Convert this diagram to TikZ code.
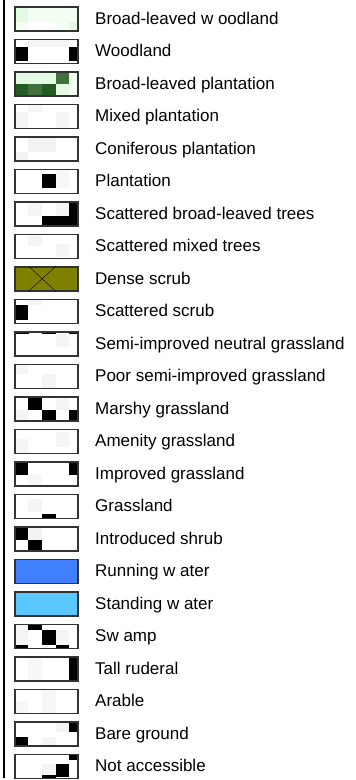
\documentclass[tikz,border=0pt]{standalone}
\usepackage{fontspec}
\setmainfont{Liberation Sans}
\usepackage{tikz}
\usetikzlibrary{positioning, backgrounds}

\definecolor{scrubolive}{RGB}{128,128,0}
\definecolor{runwater}{RGB}{64,128,255}
\definecolor{standwater}{RGB}{90,200,255}
\definecolor{plantdark}{RGB}{34,92,34}
\definecolor{plantmid}{RGB}{64,112,64}
\definecolor{paleleaf}{RGB}{226,250,226}

% pixel cells of a swatch, offsets from its top left corner
\newcommand{\swatchpx}[3]{%
  \begin{scope}[on background layer, shift={(#1.north west)}]
    \foreach \xa/\ya/\xb/\yb in {#3} \fill[#2] (\xa,-\ya) rectangle (\xb,-\yb);
  \end{scope}}

\begin{document}
\begin{tikzpicture}[x=1pt, y=1pt, node distance=7pt, font=\fontsize{17}{20}\selectfont]

    % Define styles for the legend entries
    \tikzstyle{swatch} = [draw=black!80, line width=1.5pt, minimum width=63pt, minimum height=24pt, inner sep=0pt]
    \tikzstyle{legendtext} = [inner sep=0pt, text height=11pt, text depth=0pt]

    \useasboundingbox (0,0) rectangle (356,-780);
    \draw[line width=2pt] (3.5,0) -- (3.5,-778);

    \node (bl_woodland) [swatch] at (46.25,-18.75) {};
    \node (woodland) [swatch, below=of bl_woodland] {};
    \node (bl_plantation) [swatch, below=of woodland] {};
    \node (mixed_plant) [swatch, below=of bl_plantation] {};
    \node (conif_plant) [swatch, below=of mixed_plant] {};
    \node (plantation) [swatch, below=of conif_plant] {};
    \node (sc_bl_trees) [swatch, below=of plantation] {};
    \node (sc_mixed_trees) [swatch, below=of sc_bl_trees] {};
    \node (dense_scrub) [swatch, fill=scrubolive, below=of sc_mixed_trees] {};
    \node (sc_scrub) [swatch, below=of dense_scrub] {};
    \node (si_grass) [swatch, below=of sc_scrub] {};
    \node (poor_si_grass) [swatch, below=of si_grass] {};
    \node (marshy_grass) [swatch, below=of poor_si_grass] {};
    \node (amenity_grass) [swatch, below=of marshy_grass] {};
    \node (improved_grass) [swatch, below=of amenity_grass] {};
    \node (grassland) [swatch, below=of improved_grass] {};
    \node (intro_shrub) [swatch, below=of grassland] {};
    \node (running_water) [swatch, fill=runwater, below=of intro_shrub] {};
    \node (standing_water) [swatch, fill=standwater, below=of running_water] {};
    \node (swamp) [swatch, below=of standing_water] {};
    \node (tall_ruderal) [swatch, below=of swamp] {};
    \node (arable) [swatch, below=of tall_ruderal] {};
    \node (bare_ground) [swatch, below=of arable] {};
    \node (not_accessible) [swatch, below=of bare_ground] {};

    \node (bl_woodland_txt) [legendtext, right=16.5pt of bl_woodland] {Broad-leaved w oodland};
    \node (woodland_txt) [legendtext, right=16.5pt of woodland] {Woodland};
    \node (bl_plantation_txt) [legendtext, right=16.5pt of bl_plantation] {Broad-leaved plantation};
    \node (mixed_plant_txt) [legendtext, right=16.5pt of mixed_plant] {Mixed plantation};
    \node (conif_plant_txt) [legendtext, right=16.5pt of conif_plant] {Coniferous plantation};
    \node (plantation_txt) [legendtext, right=16.5pt of plantation] {Plantation};
    \node (sc_bl_trees_txt) [legendtext, right=16.5pt of sc_bl_trees] {Scattered broad-leaved trees};
    \node (sc_mixed_trees_txt) [legendtext, right=16.5pt of sc_mixed_trees] {Scattered mixed trees};
    \node (dense_scrub_txt) [legendtext, right=16.5pt of dense_scrub] {Dense scrub};
    \node (sc_scrub_txt) [legendtext, right=16.5pt of sc_scrub] {Scattered scrub};
    \node (si_grass_txt) [legendtext, right=16.5pt of si_grass] {Semi-improved neutral grassland};
    \node (poor_si_grass_txt) [legendtext, right=16.5pt of poor_si_grass] {Poor semi-improved grassland};
    \node (marshy_grass_txt) [legendtext, right=16.5pt of marshy_grass] {Marshy grassland};
    \node (amenity_grass_txt) [legendtext, right=16.5pt of amenity_grass] {Amenity grassland};
    \node (improved_grass_txt) [legendtext, right=16.5pt of improved_grass] {Improved grassland};
    \node (grassland_txt) [legendtext, right=16.5pt of grassland] {Grassland};
    \node (intro_shrub_txt) [legendtext, right=16.5pt of intro_shrub] {Introduced shrub};
    \node (running_water_txt) [legendtext, right=16.5pt of running_water] {Running w ater};
    \node (standing_water_txt) [legendtext, right=16.5pt of standing_water] {Standing w ater};
    \node (swamp_txt) [legendtext, right=16.5pt of swamp] {Sw amp};
    \node (tall_ruderal_txt) [legendtext, right=16.5pt of tall_ruderal] {Tall ruderal};
    \node (arable_txt) [legendtext, right=16.5pt of arable] {Arable};
    \node (bare_ground_txt) [legendtext, right=16.5pt of bare_ground] {Bare ground};
    \node (not_accessible_txt) [legendtext, right=16.5pt of not_accessible] {Not accessible};

    % swatch patterns
    \swatchpx{bl_woodland}{paleleaf}{0/0/14.3/15.7, 55.3/15.7/64.5/25.5}
    \swatchpx{bl_woodland}{green!5}{14.3/0/64.5/15.7, 0/15.7/14.3/25.5, 42/15.7/55.3/25.5}
    \swatchpx{woodland}{black}{0/8.5/14.3/22.5, 55.3/8.5/64.5/22.5}
    \swatchpx{woodland}{black!4}{14.3/0/55.3/8.5}
    \swatchpx{bl_plantation}{paleleaf}{0/0/42/12.5, 42/12.5/55.3/25.5}
    \swatchpx{bl_plantation}{green!5}{55.3/0/64.5/25.5}
    \swatchpx{bl_plantation}{plantdark}{0/12.5/14.3/25.5, 27.7/12.5/42/25.5}
    \swatchpx{bl_plantation}{plantmid}{42/0/55.3/12.5, 14.3/12.5/27.7/25.5}
    \swatchpx{mixed_plant}{black!4}{14.3/0/27.7/8, 0/8/14.3/25.5, 42/8/55.3/25.5}
    \swatchpx{conif_plant}{black!5}{0/16/14.3/25.5, 14.3/0/42/16}
    \swatchpx{plantation}{black}{27.7/5.7/42/19.7}
    \swatchpx{plantation}{black!3}{42/0/55.3/19.7}
    \swatchpx{sc_bl_trees}{black}{27.7/15/64.5/25.5, 55.3/0/64.5/15}
    \swatchpx{sc_bl_trees}{black!4}{14.3/0/27.7/15, 42/0/55.3/15}
    \swatchpx{sc_mixed_trees}{black!4}{14.3/2/27.7/12, 42/10/55.3/23}
    \draw[thin] (dense_scrub.north west) ++(14.3,0) -- ++(27.7,-25.5);
    \draw[thin] (dense_scrub.north west) ++(42,0) -- ++(-27.7,-25.5);
    \swatchpx{sc_scrub}{black}{0/6.7/14.3/21.7}
    \swatchpx{sc_scrub}{black!4}{14.3/0/27.7/6.7}
    \swatchpx{si_grass}{black}{0/0/15/3, 27.7/0/42/3, 55.3/0/64.5/3}
    \swatchpx{si_grass}{black!4}{42/3/55.3/16}
    \swatchpx{poor_si_grass}{black!4}{0/0/14.3/10, 27.7/10/42/25.5}
    \swatchpx{marshy_grass}{black}{14.3/0/27.7/14, 27.7/14/42/25.5, 55.3/14/64.5/25.5}
    \swatchpx{marshy_grass}{black!4}{0/14/14.3/25.5, 42/0/55.3/14}
    \swatchpx{amenity_grass}{black!4}{0/10/14.3/25.5, 42/3/55.3/18}
    \swatchpx{improved_grass}{black}{0/0/14.3/14, 55.3/0/64.5/14}
    \swatchpx{improved_grass}{black!3}{14.3/14/27.7/25.5}
    \swatchpx{grassland}{black}{27.7/20/42/25.5}
    \swatchpx{grassland}{black!4}{14.3/5/27.7/18}
    \swatchpx{intro_shrub}{black}{0/0/14.3/14, 14.3/14/27.7/25.5}
    \swatchpx{intro_shrub}{black!5}{14.3/0/27.7/14}
    \swatchpx{swamp}{black}{14.3/0/27.7/6, 27.7/6/42/21, 0/21/14.3/25.5, 42/21/55.3/25.5}
    \swatchpx{swamp}{black!4}{0/0/14.3/21, 42/6/55.3/21}
    \swatchpx{tall_ruderal}{black}{55.3/0/64.5/25.5}
    \swatchpx{tall_ruderal}{black!3}{14.3/0/27.7/25.5}
    \swatchpx{arable}{black!3}{0/12/14.3/25.5, 27.7/0/42/25.5}
    \swatchpx{bare_ground}{black}{55.3/0/64.5/11, 0/16/14.3/25.5}
    \swatchpx{bare_ground}{black!4}{27.7/16/42/25.5, 42/0/55.3/11}
    \swatchpx{not_accessible}{black}{55.3/0/64.5/6.7, 42/10/55.3/23.3, 27.7/21.7/42/25.5}
    \swatchpx{not_accessible}{black!4}{27.7/10/42/21.7}

\end{tikzpicture}
\end{document}
